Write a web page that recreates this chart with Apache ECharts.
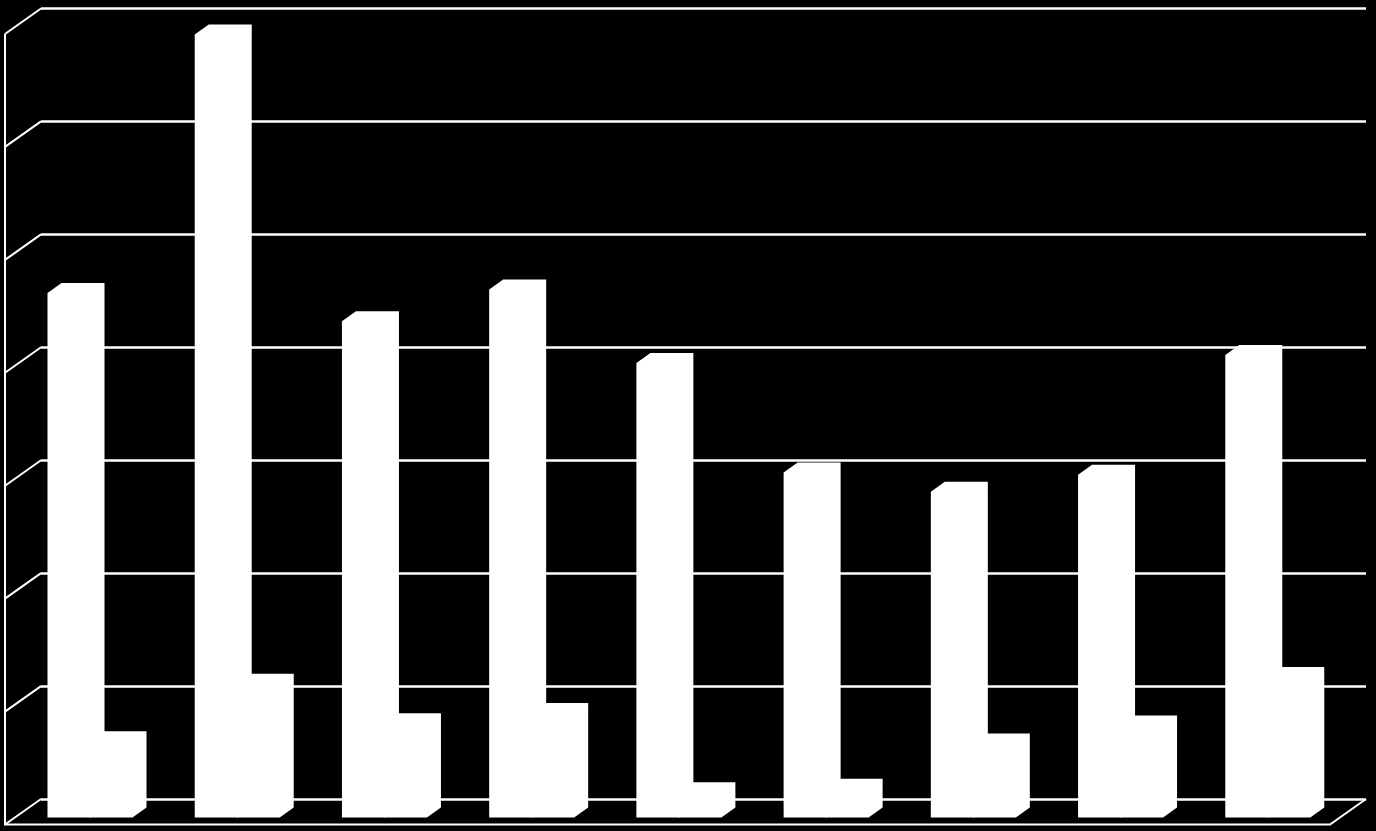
<!DOCTYPE html>
<html><head><meta charset="utf-8">
<style>html,body{margin:0;padding:0;background:#000}#c{width:1376px;height:831px}</style>
<script src="https://cdn.jsdelivr.net/npm/echarts@6/dist/echarts.min.js"></script>
</head><body><div id="c"></div>
<script>
const categories = ['1','2','3','4','5','6','7','8','9'];
const seriesA = [4.64, 6.93, 4.39, 4.67, 4.02, 3.05, 2.88, 3.03, 4.09];
const seriesB = [0.67, 1.18, 0.83, 0.92, 0.22, 0.25, 0.65, 0.81, 1.24];
const axisTicks = [0, 1, 2, 3, 4, 5, 6, 7];

const wallDX = 36, wallDY = 25.5;      // depth of the chart box
const barDX = 14, barDY = 10, barW = 43; // depth and width of a bar
const baseBack = 8.5, baseFront = 18.5, topShift = 8;  // bar plane offset from the back wall

function barSeries(name, values, offset, z) {
  return {
    type: 'custom', name, data: values.map((v, i) => [i, v]), z,
    encode: { x: 0, y: 1 },
    renderItem(params, api) {
      const p = api.coord([api.value(0), api.value(1)]);
      const band = api.size([1, 0])[0];
      const x0 = p[0] - band / 2 + offset;
      const zero = api.coord([api.value(0), 0])[1];
      const top = p[1] + topShift;
      const points = [
        [x0, zero + baseFront], [x0, top + barDY], [x0 + barDX, top],
        [x0 + barW + barDX, top], [x0 + barW + barDX, zero + baseBack],
        [x0 + barW, zero + baseFront]
      ];
      return { type: 'polygon', shape: { points }, style: { fill: '#fff' } };
    }
  };
}

const line = '#fff';
const lineW = 2.5, diagW = 2;
const option = {
  backgroundColor: '#000',
  animation: false,
  grid: { left: 41, right: 10, top: 8.5, bottom: 32, containLabel: false },
  xAxis: { type: 'category', data: categories,
    axisLine: { show: false }, axisTick: { show: false }, axisLabel: { show: false }, splitLine: { show: false } },
  yAxis: { type: 'value', min: axisTicks[0], max: axisTicks[axisTicks.length - 1], interval: 1,
    axisLine: { show: false }, axisTick: { show: false }, axisLabel: { show: false },
    splitLine: { show: true, lineStyle: { color: line, width: lineW } } },
  series: [
    { // left wall diagonals at each tick
      type: 'custom', z: 3, data: axisTicks.map(t => [0, t]), encode: { x: 0, y: 1 },
      renderItem(params, api) {
        const y = api.coord([0, api.value(1)])[1];
        const x = params.coordSys.x;
        return { type: 'line', shape: { x1: x, y1: y, x2: x - wallDX, y2: y + wallDY },
          style: { stroke: line, lineWidth: diagW } };
      }
    },
    { // left wall edge and floor outline
      type: 'custom', z: 3, data: [[0, axisTicks[axisTicks.length - 1]]], encode: { x: 0, y: 1 },
      renderItem(params, api) {
        const c = params.coordSys;
        const topY = c.y, botY = c.y + c.height;
        const l = c.x, r = c.x + c.width;
        return { type: 'group', children: [
          { type: 'polyline', shape: { points: [[l - wallDX, topY + wallDY], [l - wallDX, botY + wallDY],
              [r - wallDX, botY + wallDY], [r, botY]] },
            style: { stroke: line, lineWidth: diagW, fill: null } }
        ] };
      }
    },
    barSeries('B', seriesB, 48.5, 5),
    barSeries('A', seriesA, 6.5, 6)
  ]
};
echarts.init(document.getElementById('c'), null, { renderer: 'canvas' }).setOption(option);
</script></body></html>
